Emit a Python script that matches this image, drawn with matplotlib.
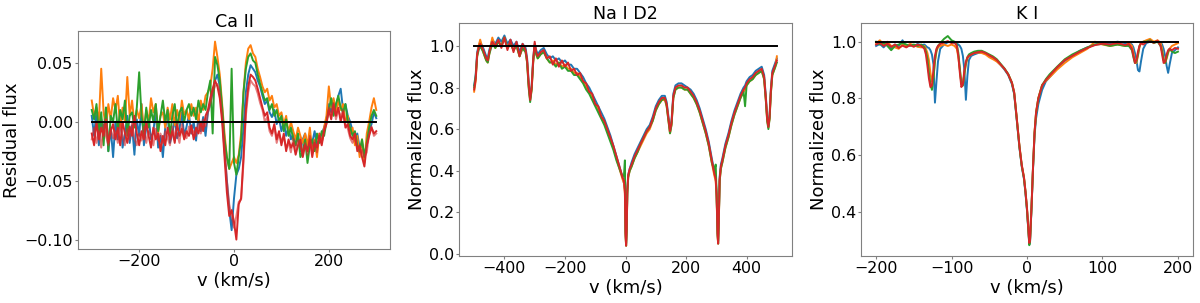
import numpy as np
import matplotlib.pyplot as plt
import matplotlib as mpl

mpl.rcParams['font.size'] = 13
mpl.rcParams['axes.titlesize'] = 12.6
mpl.rcParams['axes.labelsize'] = 13
mpl.rcParams['xtick.labelsize'] = 11.4
mpl.rcParams['ytick.labelsize'] = 11.4
mpl.rcParams['lines.linewidth'] = 1.4
mpl.rcParams['xtick.major.size'] = 2.2
mpl.rcParams['ytick.major.size'] = 2.2
mpl.rcParams['xtick.major.pad'] = 1.3
mpl.rcParams['ytick.major.pad'] = 1.3
mpl.rcParams['axes.labelpad'] = 2
mpl.rcParams['axes.titlepad'] = 2.5

# ---------------- Ca II residuals (5 km/s grid) ----------------
v_ca = np.arange(-300, 301, 5)

ca_blue = [0.005, -0.012, 0.010, -0.020, 0.002, -0.008, 0.012, -0.025, -0.005, -0.030,
           0.000, -0.015, 0.008, -0.022, -0.010, 0.005, -0.018, -0.003, -0.028, 0.002,
           -0.012, 0.015, -0.020, -0.005, 0.004, -0.015, -0.008, 0.010, -0.022, -0.012,
           -0.030, -0.005, 0.006, -0.018, -0.010, 0.003, -0.014, -0.006, 0.008, -0.012,
           -0.004, 0.006, -0.010, 0.000, -0.016, 0.005, -0.008, 0.004, -0.012, 0.008,
           0.015, 0.025, 0.035, 0.040, 0.030, 0.005, -0.025, -0.050, -0.075, -0.092,
           -0.065, -0.045, -0.040, -0.030, -0.005, 0.025, 0.040, 0.048, 0.045, 0.042,
           0.035, 0.030, 0.022, 0.015, 0.018, 0.008, 0.004, 0.010, -0.002, 0.003,
           -0.008, 0.000, -0.012, -0.005, -0.015, -0.010, -0.020, -0.012, -0.025, -0.015,
           -0.010, -0.022, -0.012, -0.018, -0.008, -0.020, -0.015, -0.010, -0.005, 0.002,
           0.015, 0.008, 0.018, 0.012, 0.022, 0.028, 0.010, 0.015, 0.005, 0.000,
           -0.008, -0.015, -0.010, -0.022, -0.018, -0.028, -0.020, -0.008, -0.002, 0.008,
           0.003]
ca_orange = [0.018, 0.005, 0.012, 0.000, 0.045, 0.008, -0.005, 0.015, 0.002, 0.020,
             0.010, 0.022, -0.005, 0.012, 0.000, 0.038, 0.005, 0.018, -0.002, 0.010,
             0.003, 0.015, -0.008, 0.010, 0.000, 0.020, 0.008, 0.015, -0.010, 0.005,
             0.008, -0.005, 0.012, 0.002, 0.015, -0.003, 0.010, 0.000, 0.018, 0.006,
             0.010, 0.002, 0.015, 0.005, 0.012, 0.000, 0.018, 0.010, 0.022, 0.025,
             0.030, 0.045, 0.068, 0.055, 0.040, 0.015, -0.010, -0.030, -0.040, -0.035,
             -0.030, -0.035, -0.028, -0.010, 0.025, 0.050, 0.062, 0.065, 0.058, 0.055,
             0.045, 0.038, 0.030, 0.025, 0.028, 0.018, 0.022, 0.012, 0.015, 0.005,
             0.008, -0.002, 0.005, -0.010, 0.000, -0.008, -0.015, -0.005, -0.012, -0.018,
             -0.010, -0.020, -0.005, -0.025, -0.015, -0.030, -0.010, -0.018, -0.005, 0.005,
             0.030, 0.012, 0.020, 0.008, 0.018, 0.010, 0.015, 0.000, 0.005, -0.010,
             -0.005, -0.020, -0.012, -0.030, -0.015, -0.035, -0.010, 0.000, 0.012, 0.020,
             0.010]
ca_green = [0.010, 0.002, 0.015, -0.010, 0.008, -0.020, 0.012, -0.025, 0.005, 0.000,
            0.015, -0.008, 0.010, 0.002, 0.018, -0.012, 0.005, 0.008, -0.005, 0.012,
            0.042, 0.005, -0.010, 0.012, -0.005, 0.010, 0.000, 0.015, -0.008, 0.005,
            0.018, 0.000, 0.010, -0.012, 0.005, 0.015, -0.005, 0.008, 0.012, 0.000,
            0.010, 0.015, 0.005, 0.012, 0.002, 0.018, 0.008, 0.015, 0.010, 0.025,
            0.035, -0.010, 0.055, 0.048, 0.035, 0.012, -0.015, -0.030, -0.040, 0.045,
            -0.035, -0.045, -0.030, -0.015, 0.025, 0.045, 0.055, 0.058, 0.052, 0.050,
            0.040, 0.032, 0.025, 0.018, 0.020, 0.010, 0.015, 0.005, 0.010, 0.000,
            0.005, -0.008, 0.002, -0.012, -0.005, -0.015, -0.020, -0.010, -0.030, -0.025,
            -0.015, -0.035, -0.020, -0.015, -0.025, -0.010, -0.018, -0.008, -0.012, 0.000,
            0.010, 0.020, 0.005, 0.015, 0.022, 0.012, 0.008, 0.015, 0.000, -0.005,
            -0.012, -0.008, -0.020, -0.025, -0.015, -0.030, -0.018, -0.005, 0.005, 0.010,
            0.005]
ca_red = [-0.010, -0.020, 0.000, -0.015, -0.005, -0.012, 0.002, -0.018, -0.008, -0.002,
          -0.015, -0.005, -0.020, 0.000, -0.010, -0.018, -0.004, -0.012, 0.005, -0.010,
          -0.020, -0.008, -0.015, 0.000, -0.012, -0.022, -0.005, -0.015, -0.010, -0.025,
          -0.012, -0.020, -0.005, -0.015, -0.008, -0.018, -0.002, -0.012, -0.006, -0.015,
          -0.008, -0.012, -0.003, -0.015, -0.005, -0.010, 0.000, -0.008, 0.005, 0.010,
          0.020, 0.028, 0.035, 0.030, 0.020, 0.000, -0.030, -0.060, -0.080, -0.075,
          -0.085, -0.100, -0.070, -0.065, -0.030, 0.010, 0.030, 0.040, 0.038, 0.035,
          0.028, 0.020, 0.012, 0.005, 0.008, -0.005, -0.010, -0.002, -0.015, -0.008,
          -0.020, -0.010, -0.025, -0.015, -0.022, -0.018, -0.028, -0.020, -0.015, -0.030,
          -0.020, -0.025, -0.015, -0.030, -0.018, -0.022, -0.012, -0.020, -0.008, -0.002,
          0.010, 0.002, 0.015, 0.005, 0.012, 0.000, 0.008, -0.005, -0.002, -0.012,
          -0.015, -0.010, -0.025, -0.020, -0.030, -0.038, -0.020, -0.012, -0.005, -0.010,
          -0.008]
ca_red2 = [-0.015, -0.005, -0.018, -0.008, -0.022, -0.002, -0.012, -0.020, -0.006, -0.014,
           -0.008, -0.018, -0.002, -0.012, -0.020, -0.006, -0.015, -0.001, -0.014, -0.020,
           -0.010, -0.016, -0.004, -0.018, -0.008, -0.012, -0.020, -0.006, -0.016, -0.010,
           -0.018, -0.008, -0.014, -0.020, -0.004, -0.012, -0.010, -0.018, -0.002, -0.010,
           -0.014, -0.004, -0.010, -0.008, -0.012, -0.002, -0.010, 0.002, -0.004, 0.008,
           0.015, 0.025, 0.030, 0.032, 0.025, 0.005, -0.020, -0.050, -0.070, -0.080,
           -0.090, -0.080, -0.068, -0.066, -0.035, 0.005, 0.025, 0.035, 0.032, 0.030,
           0.024, 0.016, 0.010, 0.000, 0.004, -0.008, -0.012, -0.004, -0.018, -0.010,
           -0.016, -0.014, -0.022, -0.018, -0.026, -0.014, -0.024, -0.016, -0.022, -0.026,
           -0.018, -0.028, -0.012, -0.024, -0.016, -0.026, -0.010, -0.018, -0.006, 0.000,
           0.012, 0.006, 0.016, 0.002, 0.010, 0.004, 0.010, -0.002, -0.006, -0.014,
           -0.018, -0.014, -0.022, -0.026, -0.024, -0.030, -0.026, -0.010, -0.004, -0.012,
           -0.010]

# ---------------- Na I D2 ----------------
v_na = [-500, -495, -490, -485, -480, -470, -460, -455, -450, -440,
        -430, -420, -410, -400, -390, -380, -370, -360, -350, -340,
        -330, -325, -320, -315, -310, -305, -300, -295, -290, -280,
        -270, -260, -250, -240, -230, -220, -210, -200, -190, -180,
        -170, -160, -150, -140, -130, -120, -110, -100, -90, -80,
        -70, -60, -50, -40, -30, -20, -10, -5, -2, 0,
        2, 4, 6, 9, 14, 20, 30, 40, 50, 60,
        70, 80, 90, 100, 110, 120, 130, 136, 142, 147,
        152, 158, 165, 175, 185, 195, 205, 215, 225, 235,
        245, 255, 265, 275, 285, 293, 298, 301, 304, 306,
        308, 311, 315, 320, 330, 340, 350, 360, 370, 380,
        390, 395, 400, 410, 420, 430, 440, 450, 458, 464,
        468, 472, 476, 480, 485, 490, 495, 500]

na_blue = [0.81, 0.86, 0.97, 1.00, 1.02, 0.99, 0.95, 0.94, 0.98, 1.03,
           1.01, 1.04, 1.02, 1.05, 1.01, 1.03, 1.00, 1.02, 0.97, 1.01,
           0.99, 0.94, 0.83, 0.75, 0.81, 0.94, 1.01, 0.98, 0.96, 0.98,
           0.99, 0.96, 0.94, 0.95, 0.93, 0.94, 0.92, 0.93, 0.91, 0.91,
           0.89, 0.89, 0.87, 0.85, 0.82, 0.80, 0.77, 0.74, 0.71, 0.68,
           0.65, 0.61, 0.57, 0.52, 0.47, 0.42, 0.37, 0.34, 0.31, 0.12,
           0.05, 0.13, 0.31, 0.38, 0.41, 0.44, 0.48, 0.51, 0.54, 0.57,
           0.60, 0.62, 0.66, 0.71, 0.74, 0.76, 0.76, 0.73, 0.66, 0.60,
           0.64, 0.77, 0.81, 0.82, 0.82, 0.81, 0.80, 0.79, 0.77, 0.74,
           0.70, 0.65, 0.60, 0.54, 0.46, 0.40, 0.37, 0.29, 0.11, 0.06,
           0.16, 0.37, 0.43, 0.46, 0.53, 0.58, 0.64, 0.69, 0.73, 0.77,
           0.80, 0.81, 0.83, 0.85, 0.86, 0.88, 0.89, 0.90, 0.86, 0.75,
           0.66, 0.62, 0.67, 0.79, 0.88, 0.90, 0.92, 0.94]
na_orange = [0.78, 0.83, 0.95, 1.00, 1.03, 0.97, 0.93, 0.92, 0.96, 1.04,
             0.99, 1.02, 1.00, 1.04, 0.99, 1.01, 0.98, 1.00, 0.95, 0.99,
             0.97, 0.92, 0.81, 0.74, 0.79, 0.92, 1.00, 0.96, 0.94, 0.96,
             0.97, 0.94, 0.92, 0.93, 0.91, 0.92, 0.90, 0.91, 0.89, 0.89,
             0.87, 0.87, 0.85, 0.83, 0.80, 0.78, 0.75, 0.72, 0.69, 0.66,
             0.63, 0.59, 0.55, 0.51, 0.46, 0.41, 0.36, 0.34, 0.29, 0.09,
             0.04, 0.11, 0.29, 0.37, 0.40, 0.42, 0.46, 0.49, 0.52, 0.55,
             0.58, 0.60, 0.64, 0.69, 0.72, 0.74, 0.74, 0.71, 0.64, 0.58,
             0.62, 0.75, 0.79, 0.80, 0.80, 0.79, 0.79, 0.77, 0.75, 0.72,
             0.68, 0.63, 0.58, 0.52, 0.44, 0.38, 0.35, 0.27, 0.09, 0.05,
             0.14, 0.35, 0.41, 0.44, 0.51, 0.56, 0.62, 0.67, 0.71, 0.75,
             0.78, 0.79, 0.81, 0.83, 0.84, 0.86, 0.87, 0.88, 0.84, 0.73,
             0.64, 0.61, 0.65, 0.77, 0.86, 0.88, 0.90, 0.95]
na_green = [0.80, 0.85, 0.95, 0.98, 1.00, 0.97, 0.93, 0.92, 0.96, 1.01,
            0.99, 1.02, 1.00, 1.04, 0.99, 1.01, 0.98, 1.00, 0.95, 0.99,
            0.97, 0.92, 0.80, 0.73, 0.79, 0.92, 1.00, 0.96, 0.94, 0.96,
            0.97, 0.94, 0.92, 0.92, 0.90, 0.92, 0.89, 0.90, 0.88, 0.88,
            0.86, 0.86, 0.84, 0.82, 0.79, 0.77, 0.74, 0.71, 0.68, 0.65,
            0.62, 0.58, 0.54, 0.50, 0.45, 0.41, 0.37, 0.38, 0.45, 0.11,
            0.04, 0.12, 0.29, 0.37, 0.40, 0.42, 0.46, 0.49, 0.53, 0.56,
            0.59, 0.61, 0.64, 0.69, 0.72, 0.74, 0.75, 0.71, 0.64, 0.58,
            0.62, 0.75, 0.79, 0.80, 0.80, 0.79, 0.79, 0.77, 0.75, 0.72,
            0.68, 0.63, 0.58, 0.52, 0.44, 0.40, 0.43, 0.28, 0.10, 0.05,
            0.15, 0.35, 0.41, 0.44, 0.51, 0.56, 0.62, 0.67, 0.71, 0.75,
            0.78, 0.71, 0.81, 0.83, 0.84, 0.86, 0.87, 0.88, 0.84, 0.73,
            0.64, 0.60, 0.65, 0.77, 0.86, 0.88, 0.90, 0.92]
na_red = [0.79, 0.84, 0.96, 0.99, 1.01, 0.98, 0.94, 0.93, 0.97, 1.02,
          1.00, 1.03, 0.99, 1.04, 0.98, 1.03, 0.97, 1.02, 0.95, 1.01,
          0.98, 0.93, 0.82, 0.74, 0.80, 0.93, 1.02, 0.97, 0.95, 0.97,
          0.98, 0.94, 0.95, 0.91, 0.94, 0.90, 0.93, 0.90, 0.92, 0.88,
          0.89, 0.86, 0.87, 0.83, 0.82, 0.78, 0.77, 0.72, 0.71, 0.66,
          0.64, 0.60, 0.56, 0.52, 0.47, 0.42, 0.37, 0.35, 0.30, 0.10,
          0.04, 0.12, 0.30, 0.38, 0.41, 0.43, 0.47, 0.50, 0.53, 0.56,
          0.59, 0.61, 0.65, 0.70, 0.73, 0.75, 0.75, 0.72, 0.65, 0.59,
          0.63, 0.76, 0.80, 0.81, 0.81, 0.80, 0.80, 0.78, 0.76, 0.73,
          0.69, 0.64, 0.59, 0.53, 0.45, 0.39, 0.36, 0.28, 0.10, 0.05,
          0.15, 0.36, 0.42, 0.45, 0.52, 0.57, 0.63, 0.68, 0.72, 0.76,
          0.79, 0.80, 0.82, 0.84, 0.85, 0.87, 0.88, 0.89, 0.85, 0.74,
          0.65, 0.61, 0.66, 0.78, 0.87, 0.89, 0.91, 0.93]

# ---------------- K I ----------------
v_k = [-200, -195, -190, -185, -180, -175, -170, -165, -160, -155,
       -150, -145, -140, -136, -134, -132, -130, -128, -126, -124,
       -122, -120, -118, -115, -110, -105, -100, -96, -93, -91,
       -89, -87, -85, -83, -81, -79, -77, -74, -70, -65,
       -60, -55, -50, -45, -40, -35, -30, -25, -20, -17,
       -14, -10, -7, -4, -2, 0, 2, 3, 4, 6,
       8, 10, 12, 15, 20, 25, 30, 40, 50, 60,
       70, 80, 90, 100, 110, 120, 130, 135, 139, 141,
       143, 145, 147, 149, 151, 154, 158, 163, 168, 173,
       177, 179, 181, 183, 185, 187, 189, 192, 196, 200]

k_blue = [0.985, 0.992, 0.980, 0.995, 0.975, 0.990, 0.985, 1.005, 0.982, 0.990,
          0.985, 0.992, 0.988, 0.990, 0.985, 0.980, 0.978, 0.970, 0.955, 0.920,
          0.785, 0.860, 0.930, 0.975, 0.990, 0.998, 1.000, 0.995, 0.993, 0.990,
          0.985, 0.975, 0.950, 0.900, 0.795, 0.880, 0.935, 0.950, 0.955, 0.960,
          0.962, 0.958, 0.950, 0.942, 0.932, 0.918, 0.902, 0.883, 0.850, 0.815,
          0.735, 0.625, 0.560, 0.515, 0.465, 0.405, 0.325, 0.285, 0.295, 0.415,
          0.555, 0.670, 0.730, 0.780, 0.830, 0.860, 0.875, 0.905, 0.932, 0.950,
          0.968, 0.980, 0.990, 0.996, 0.995, 1.000, 0.995, 0.997, 0.990, 0.980,
          0.960, 0.935, 0.900, 0.895, 0.930, 0.975, 0.995, 1.000, 0.998, 1.002,
          0.998, 0.990, 0.975, 0.950, 0.915, 0.890, 0.920, 0.960, 0.970, 0.980]
k_orange = [0.995, 1.005, 0.990, 1.000, 0.985, 0.980, 0.975, 0.990, 0.985, 0.992,
            0.988, 0.982, 0.980, 0.985, 0.975, 0.960, 0.935, 0.890, 0.860, 0.875,
            0.930, 0.965, 0.980, 0.985, 0.990, 0.985, 0.990, 0.985, 0.975, 0.945,
            0.900, 0.855, 0.850, 0.885, 0.920, 0.940, 0.950, 0.955, 0.960, 0.962,
            0.960, 0.955, 0.945, 0.938, 0.930, 0.918, 0.905, 0.886, 0.856, 0.822,
            0.742, 0.632, 0.566, 0.522, 0.472, 0.412, 0.332, 0.292, 0.302, 0.422,
            0.562, 0.682, 0.752, 0.802, 0.848, 0.862, 0.875, 0.902, 0.925, 0.945,
            0.960, 0.975, 1.000, 0.990, 0.985, 0.990, 0.985, 0.995, 0.985, 0.960,
            0.930, 0.925, 0.950, 0.980, 0.995, 1.000, 1.005, 1.010, 1.000, 1.005,
            0.995, 0.975, 0.940, 0.925, 0.940, 0.960, 0.975, 0.985, 0.990, 0.995]
k_green = [1.000, 0.990, 0.995, 0.985, 0.970, 0.985, 0.990, 0.995, 0.990, 0.985,
           0.990, 0.985, 0.990, 0.980, 0.965, 0.940, 0.890, 0.850, 0.830, 0.870,
           0.935, 0.970, 0.985, 0.995, 1.010, 1.020, 1.005, 1.000, 0.990, 0.960,
           0.905, 0.850, 0.845, 0.890, 0.925, 0.945, 0.955, 0.960, 0.965, 0.968,
           0.968, 0.962, 0.955, 0.948, 0.938, 0.922, 0.906, 0.886, 0.855, 0.818,
           0.738, 0.628, 0.562, 0.518, 0.468, 0.405, 0.325, 0.282, 0.295, 0.418,
           0.558, 0.678, 0.748, 0.800, 0.846, 0.868, 0.885, 0.912, 0.938, 0.955,
           0.968, 0.980, 0.990, 0.992, 0.985, 0.990, 0.985, 0.985, 0.970, 0.945,
           0.925, 0.930, 0.955, 0.985, 0.995, 1.000, 1.000, 1.005, 0.995, 1.000,
           0.985, 0.965, 0.935, 0.925, 0.945, 0.965, 0.975, 0.965, 0.960, 0.965]
k_red = [0.990, 0.997, 0.985, 0.993, 0.982, 0.990, 0.978, 0.986, 0.980, 0.988,
         0.982, 0.990, 0.985, 0.975, 0.955, 0.915, 0.870, 0.840, 0.845, 0.900,
         0.950, 0.975, 0.985, 0.992, 0.997, 1.002, 0.995, 0.998, 0.985, 0.950,
         0.890, 0.840, 0.850, 0.900, 0.930, 0.945, 0.950, 0.955, 0.960, 0.963,
         0.965, 0.960, 0.952, 0.945, 0.935, 0.920, 0.905, 0.885, 0.855, 0.820,
         0.740, 0.630, 0.565, 0.520, 0.470, 0.410, 0.330, 0.290, 0.300, 0.420,
         0.560, 0.680, 0.750, 0.800, 0.845, 0.865, 0.880, 0.910, 0.935, 0.950,
         0.965, 0.978, 0.988, 0.993, 0.990, 0.995, 0.988, 0.992, 0.975, 0.950,
         0.925, 0.935, 0.965, 0.985, 0.995, 0.990, 0.998, 1.002, 0.996, 1.004,
         0.985, 0.955, 0.925, 0.930, 0.955, 0.970, 0.975, 0.970, 0.978, 0.975]


fig = plt.figure(figsize=(12, 3.03), dpi=100)
ax1 = fig.add_axes([0.0646, 0.1782, 0.2608, 0.7195])
ax2 = fig.add_axes([0.3825, 0.1551, 0.2775, 0.769])
ax3 = fig.add_axes([0.7175, 0.1551, 0.2767, 0.769])

# Ca II
ax1.plot(v_ca, ca_blue, color='C0')
ax1.plot(v_ca, ca_orange, color='C1')
ax1.plot(v_ca, ca_green, color='C2')
ax1.plot(v_ca, ca_red2, color='C3', alpha=0.6)
ax1.plot(v_ca, ca_red, color='C3')
ax1.plot([v_ca[0], v_ca[-1]], [0, 0], color='k')
ax1.set_xlim(-330, 330)
ax1.set_ylim(-0.108, 0.077)
ax1.set_yticks([-0.10, -0.05, 0.00, 0.05])
ax1.set_title('Ca II')
ax1.set_ylabel('Residual flux')
ax1.set_xlabel('v (km/s)')

# Na I D2
for y, c in zip([na_blue, na_orange, na_green, na_red], ['C0', 'C1', 'C2', 'C3']):
    ax2.plot(v_na, y, color=c)
ax2.plot([v_na[0], v_na[-1]], [1, 1], color='k')
ax2.set_xlim(-550, 550)
ax2.set_ylim(-0.0096, 1.11)
ax2.set_title('Na I D2')
ax2.set_ylabel('Normalized flux')
ax2.set_xlabel('v (km/s)')

# K I
for y, c in zip([k_blue, k_orange, k_green, k_red], ['C0', 'C1', 'C2', 'C3']):
    ax3.plot(v_k, y, color=c)
ax3.plot([v_k[0], v_k[-1]], [1, 1], color='k')
ax3.set_xlim(-220, 220)
ax3.set_ylim(0.244, 1.066)
ax3.set_yticks([0.4, 0.6, 0.8, 1.0])
ax3.set_title('K I')
ax3.set_ylabel('Normalized flux')
ax3.set_xlabel('v (km/s)')

for ax in [ax1, ax2, ax3]:
    for s in ax.spines.values():
        s.set_color('gray')
    ax.tick_params(color='gray')

plt.savefig('out.png', dpi=100)
